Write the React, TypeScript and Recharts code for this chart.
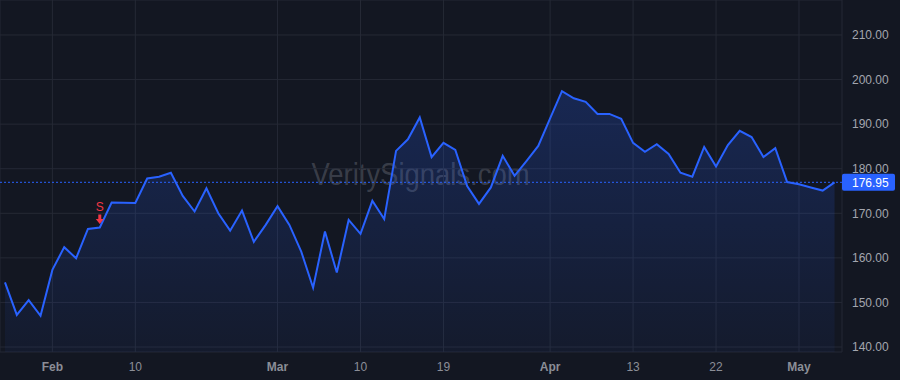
import React from "react";
import {
  ComposedChart,
  Area,
  XAxis,
  YAxis,
  CartesianGrid,
  ReferenceLine,
  ReferenceDot,
} from "recharts";

// closing prices, one per trading day
const prices = [
  154.5, 147.2, 150.5, 147.0, 157.3, 162.4, 159.9, 166.5, 166.8, 172.4,
  172.35, 172.3, 177.8, 178.2, 179.1, 173.9, 170.4, 175.6, 170.0, 166.1,
  170.6, 163.6, 167.4, 171.6, 167.4, 161.4, 153.3, 165.9, 156.7, 168.5,
  165.4, 172.8, 168.7, 184.0, 186.6, 191.5, 182.6, 185.8, 184.2, 176.1,
  172.1, 175.8, 182.9, 178.4, 181.7, 185.1, 191.3, 197.4, 195.8, 195.0,
  192.3, 192.3, 191.2, 185.8, 183.8, 185.5, 183.3, 179.1, 178.2, 184.9,
  180.5, 185.3, 188.5, 187.1, 182.6, 184.6, 177.0, 176.5, 175.8, 175.1,
  176.95,
];

const xTicks = [4, 11, 23, 30, 37, 46, 53, 60, 67];
const xTickLabels = ["Feb", "10", "Mar", "10", "19", "Apr", "13", "22", "May"];
const monthTicks = ["Feb", "Mar", "Apr", "May"];
const yTicks = [140, 150, 160, 170, 180, 190, 200, 210];

const lastPrice = 176.95;
const signalIndex = 8;

const data = prices.map((v, i) => ({ i, v }));

const FONT = "'Liberation Sans', Arial, sans-serif";

const XTick = (props: any) => {
  const { x, y, payload } = props;
  const idx = xTicks.indexOf(payload.value);
  const label = xTickLabels[idx] ?? "";
  const bold = monthTicks.includes(label);
  return (
    <text
      x={x}
      y={y + 19}
      textAnchor="middle"
      fill="#8b8e97"
      fontSize={12}
      fontWeight={bold ? "bold" : "normal"}
      fontFamily={FONT}
    >
      {label}
    </text>
  );
};

const PriceTag = (props: any) => {
  const vb = props.viewBox || {};
  const x = vb.x + vb.width;
  const y = vb.y;
  return (
    <g>
      <rect x={x} y={y - 8.5} width={53} height={17} rx={2} fill="#2962ff" />
      <text x={x + 10} y={y + 4.5} fill="#ffffff" fontSize={12} fontFamily={FONT}>
        {lastPrice.toFixed(2)}
      </text>
    </g>
  );
};

const SellMark = (props: any) => {
  const { cx, cy } = props;
  return (
    <g>
      <text x={cx} y={cy - 16.5} textAnchor="middle" fill="#f23645" fontSize={12} fontFamily={FONT}>
        S
      </text>
      <path
        d={`M${cx - 1.5},${cy - 13} h3 v4.5 h2.5 l-4,5 l-4,-5 h2.5 z`}
        fill="#f23645"
      />
    </g>
  );
};

export default function App() {
  return (
    <div
      style={{
        position: "fixed",
        top: 0,
        left: 0,
        width: 900,
        height: 380,
        background: "#131722",
        fontFamily: FONT,
      }}
    >
      {/* watermark sits behind the chart */}
      <svg width={900} height={380} style={{ position: "absolute", top: 0, left: 0 }}>
        <text
          x={311.5}
          y={185}
          fontSize={32}
          fontFamily={FONT}
          textLength={218}
          lengthAdjust="spacingAndGlyphs"
          fill="rgba(120,123,134,0.4)"
        >
          VeritySignals.com
        </text>
      </svg>
      <div style={{ position: "absolute", top: 0, left: 0 }}>
        <ComposedChart
          width={900}
          height={380}
          data={data}
          margin={{ top: 0, right: 0, bottom: 0, left: 0 }}
        >
          <defs>
            <linearGradient id="fillGrad" x1="0" y1="0" x2="0" y2="1">
              <stop offset="0%" stopColor="#2962ff" stopOpacity={0.22} />
              <stop offset="100%" stopColor="#2962ff" stopOpacity={0.05} />
            </linearGradient>
          </defs>
          <CartesianGrid stroke="#252935" />
          <XAxis
            dataKey="i"
            type="number"
            domain={[-0.42, 70.63]}
            allowDataOverflow
            ticks={xTicks}
            interval={0}
            height={28}
            axisLine={false}
            tickLine={false}
            tickSize={0}
            tickMargin={0}
            tick={<XTick />}
          />
          <YAxis
            orientation="right"
            domain={[138.88, 217.85]}
            allowDataOverflow
            ticks={yTicks}
            interval={0}
            width={58}
            axisLine={false}
            tickLine={false}
            tickSize={0}
            tickMargin={10}
            tick={{ fill: "#a3a6af", fontSize: 12, fontFamily: FONT, textAnchor: "start" }}
            tickFormatter={(v: number) => v.toFixed(2)}
          />
          <Area
            type="linear"
            dataKey="v"
            stroke="#2962ff"
            strokeWidth={2}
            fill="url(#fillGrad)"
            fillOpacity={1}
            dot={false}
            activeDot={false}
            isAnimationActive={false}
          />
          <ReferenceLine
            y={lastPrice}
            stroke="#2962ff"
            strokeDasharray="2 2"
            strokeWidth={1}
            label={<PriceTag />}
          />
          <ReferenceDot
            x={signalIndex}
            y={prices[signalIndex]}
            shape={<SellMark />}
          />
        </ComposedChart>
      </div>
    </div>
  );
}
